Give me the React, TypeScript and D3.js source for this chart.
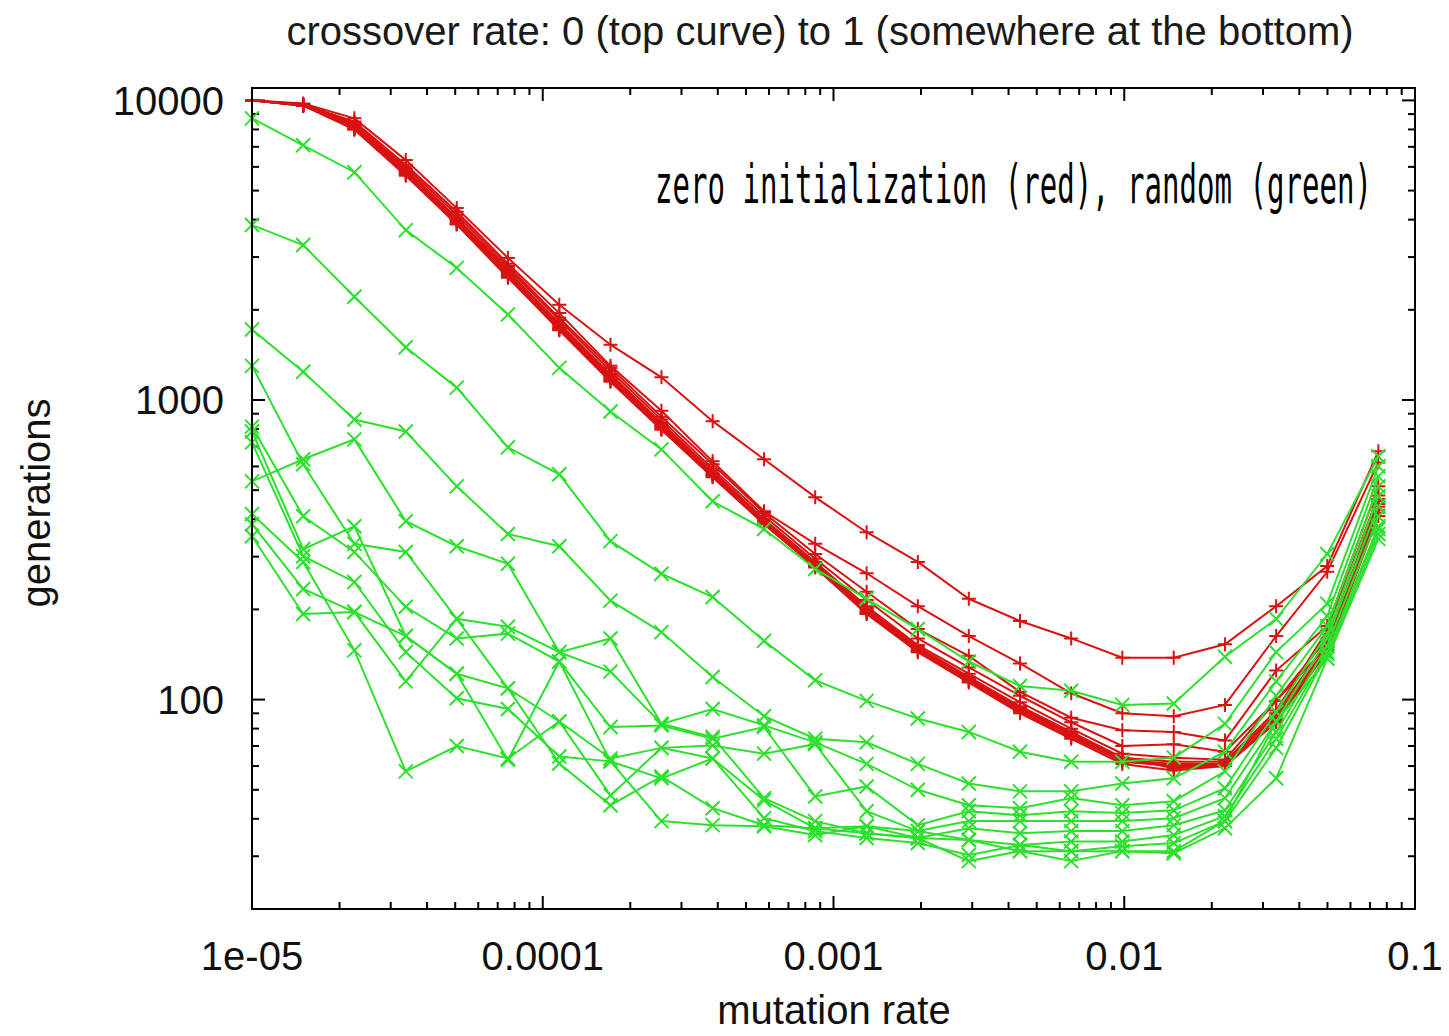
import React from 'react';
import * as d3 from 'd3';

const width = 1449;
const height = 1036;
const margin = { top: 88, left: 252, right: 34, bottom: 127 };

// mutation rates used in the runs (x axis, log)
const mutationRate = [
  1e-5, 1.5e-5, 2.25e-5, 3.38e-5, 5.06e-5, 7.59e-5, 1.14e-4, 1.71e-4, 2.56e-4, 3.84e-4, 5.77e-4, 8.65e-4,
  1.3e-3, 1.95e-3, 2.92e-3, 4.38e-3, 6.57e-3, 9.85e-3, 1.48e-2, 2.22e-2, 3.33e-2, 4.99e-2, 7.48e-2,
];

// zero initialization (red), crossover rate 0 .. 1
const zero00 = [10000, 9770, 8710, 6320, 4370, 2980, 2080, 1530, 1190, 850, 634, 474, 362, 288, 217, 183, 160, 138, 138, 153, 205, 279, 674];
const zero01 = [10000, 9700, 8500, 6100, 4250, 2850, 1950, 1300, 920, 624, 425, 331, 264, 205, 163, 132, 105, 90, 88, 96, 163, 267, 619];
const zero02 = [10000, 9680, 8400, 6000, 4150, 2800, 1880, 1280, 880, 610, 420, 306, 229, 172, 140, 106, 87, 79, 78, 73, 125, 176, 515];
const zero03 = [10000, 9660, 8300, 5900, 4050, 2750, 1850, 1250, 860, 590, 410, 295, 215, 160, 128, 103, 84, 70, 71, 67, 99, 151, 467];
const zero04 = [10000, 9650, 8200, 5850, 4000, 2700, 1800, 1220, 840, 580, 400, 288, 205, 152, 122, 98, 80, 66, 64, 63, 99, 160, 450];
const zero05 = [10000, 9640, 8100, 5750, 3950, 2650, 1760, 1190, 820, 565, 395, 283, 200, 148, 118, 94, 77, 64, 62, 62, 92, 170, 480];
const zero06 = [10000, 9630, 8050, 5700, 3900, 2600, 1730, 1170, 810, 560, 390, 280, 196, 146, 116, 92, 76, 63, 60, 61, 88, 150, 430];
const zero07 = [10000, 9620, 8000, 5650, 3850, 2560, 1720, 1160, 800, 555, 388, 278, 194, 145, 115, 91, 75, 62, 60, 60, 86, 146, 440];
const zero08 = [10000, 9610, 8150, 5800, 3980, 2620, 1740, 1180, 815, 560, 392, 282, 198, 147, 117, 93, 76, 63, 61, 61, 90, 155, 460];
const zero09 = [10000, 9600, 8250, 5850, 4020, 2680, 1780, 1200, 830, 570, 398, 285, 202, 150, 119, 95, 78, 64, 59, 60, 85, 148, 420];
const zero10 = [10000, 9600, 8000, 5600, 3870, 2580, 1710, 1150, 795, 552, 385, 276, 193, 144, 114, 90, 74, 61, 58, 60, 84, 145, 410];

// random initialization (green), crossover rate 0 .. 1
const rand00 = [8710, 7080, 5760, 3690, 2760, 1930, 1280, 915, 684, 459, 371, 273, 217, 172, 134, 111, 107, 96, 97, 139, 186, 306, 649];
const rand01 = [3840, 3290, 2210, 1500, 1100, 695, 565, 338, 263, 220, 157, 116, 99, 86.5, 78, 67, 62, 62, 64, 83, 144, 209, 601];
const rand02 = [1720, 1243, 861, 785, 515, 357, 325, 214, 168, 119, 88, 74, 72, 61, 52.5, 49.4, 49.4, 52.5, 54.6, 67, 115, 190, 556];
const rand03 = [1300, 610, 331, 311, 186, 175, 144, 160, 83, 93, 82, 72, 61, 50, 44.4, 43.4, 46.9, 44.4, 45.8, 57.6, 103, 176, 515];
const rand04 = [815, 409, 311, 204, 160, 166, 134, 81, 82, 74, 81, 47.5, 51.3, 38.1, 42.4, 41.1, 42.4, 41.8, 42.7, 50.6, 91, 166, 477];
const rand05 = [785, 318, 379, 163, 122, 109, 84.5, 63.6, 69, 70.3, 66, 71, 42.4, 36.4, 39.3, 39.3, 39.3, 39.3, 40.2, 46.9, 84.5, 160, 442];
const rand06 = [722, 301, 247, 144, 101, 93, 64.6, 62.2, 54.6, 63.6, 46.1, 37.2, 37.8, 34.5, 37.2, 35.8, 36.4, 36.4, 38.1, 42.7, 78, 151, 409];
const rand07 = [535, 634, 739, 394, 325, 284, 144, 124, 83, 75, 46.9, 39.3, 35.8, 34.5, 34, 32.7, 33.6, 33.6, 35.3, 40.8, 74, 144, 379];
const rand08 = [416, 288, 146, 57.6, 70, 63.6, 84.5, 47.9, 69, 63.6, 40.2, 36.4, 34.5, 33.2, 30.3, 32.7, 31.2, 32.4, 33.2, 39.3, 69, 142, 371];
const rand09 = [385, 234, 196, 115, 186, 109, 61.2, 44.4, 55.4, 43.4, 38.1, 37.2, 35.8, 34.5, 28.9, 31.2, 28.9, 31.2, 30.7, 37.2, 54.6, 137, 344];
const rand10 = [351, 193, 196, 163, 122, 62.9, 134, 62.2, 39.3, 38.1, 37.8, 35.3, 37.8, 36.4, 34, 31.2, 31.2, 31.2, 31.2, 39.3, 84.5, 137, 357];

const zeroInit = [zero00, zero01, zero02, zero03, zero04, zero05, zero06, zero07, zero08, zero09, zero10];
const randomInit = [rand00, rand01, rand02, rand03, rand04, rand05, rand06, rand07, rand08, rand09, rand10];

const xTicks = [1e-5, 1e-4, 1e-3, 1e-2, 1e-1];
const xTickLabels = ['1e-05', '0.0001', '0.001', '0.01', '0.1'];
const yTicks = [100, 1000, 10000];
const yTickLabels = ['100', '1000', '10000'];

const RED = '#d91212';
const GREEN = '#2ee02e';
const FONT = "'Liberation Sans', Arial, Helvetica, sans-serif";

const isDecade = (t: number) => Math.abs(Math.log10(t) - Math.round(Math.log10(t))) < 1e-6;

export default function App() {
  const x = d3.scaleLog().domain([1e-5, 0.1]).range([margin.left, width - margin.right]);
  const y = d3.scaleLog().domain([20, 11000]).range([height - margin.bottom, margin.top]);
  const x0 = margin.left, x1 = width - margin.right;
  const y0 = height - margin.bottom, y1 = margin.top;

  const line = d3.line<number>()
    .x((_, i) => x(mutationRate[i]))
    .y(d => y(d));

  const majorLen = 13, minorLen = 7;
  const m = 7; // marker half size

  const plus = (cx: number, cy: number, k: string) => (
    <path key={k} d={`M${cx - m},${cy}H${cx + m}M${cx},${cy - m}V${cy + m}`} />
  );
  const cross = (cx: number, cy: number, k: string) => (
    <path key={k} d={`M${cx - m},${cy - m}L${cx + m},${cy + m}M${cx - m},${cy + m}L${cx + m},${cy - m}`} />
  );

  return (
    <svg width={width} height={height} style={{ position: 'absolute', left: 0, top: 0, display: 'block', background: '#fff' }}>
      <text x={820} y={45} fontFamily={FONT} fontSize={40} textAnchor="middle" fill="#1a1a1a">
        crossover rate: 0 (top curve) to 1 (somewhere at the bottom)
      </text>

      {/* ticks, inward on all four sides */}
      <g stroke="#000" strokeWidth={2}>
        {x.ticks().map((t, i) => {
          const len = isDecade(t) ? majorLen : minorLen;
          const px = x(t);
          return (
            <g key={'xt' + i}>
              <line x1={px} x2={px} y1={y0} y2={y0 - len} />
              <line x1={px} x2={px} y1={y1} y2={y1 + len} />
            </g>
          );
        })}
        {y.ticks().map((t, i) => {
          const len = isDecade(t) ? majorLen : minorLen;
          const py = y(t);
          return (
            <g key={'yt' + i}>
              <line x1={x0} x2={x0 + len} y1={py} y2={py} />
              <line x1={x1} x2={x1 - len} y1={py} y2={py} />
            </g>
          );
        })}
      </g>

      {/* zero initialization */}
      <g fill="none" stroke={RED} strokeWidth={2}>
        {zeroInit.map((s, i) => <path key={'rl' + i} d={line(s) || ''} />)}
        {zeroInit.map((s, i) => s.map((v, j) => plus(x(mutationRate[j]), y(v), `rp${i}-${j}`)))}
      </g>

      {/* random initialization */}
      <g fill="none" stroke={GREEN} strokeWidth={2}>
        {randomInit.map((s, i) => <path key={'gl' + i} d={line(s) || ''} />)}
        {randomInit.map((s, i) => s.map((v, j) => cross(x(mutationRate[j]), y(v), `gp${i}-${j}`)))}
      </g>

      <rect x={x0} y={y1} width={x1 - x0} height={y0 - y1} fill="none" stroke="#000" strokeWidth={2} />

      <g fontFamily={FONT} fontSize={40} fill="#111">
        {xTicks.map((t, i) => (
          <text key={'xl' + i} x={x(t)} y={970} textAnchor="middle">{xTickLabels[i]}</text>
        ))}
        {yTicks.map((t, i) => (
          <text key={'yl' + i} x={224} y={y(t)} dy="0.36em" textAnchor="end">{yTickLabels[i]}</text>
        ))}
        <text x={834} y={1024} textAnchor="middle">mutation rate</text>
        <text transform="translate(50,503) rotate(-90)" textAnchor="middle">generations</text>
      </g>

      <text transform="translate(655,203) scale(0.538,1)" fontFamily="'DejaVu Sans Mono', monospace"
        fontSize={54} fill="#000">
        zero initialization (red), random (green)
      </text>
    </svg>
  );
}
